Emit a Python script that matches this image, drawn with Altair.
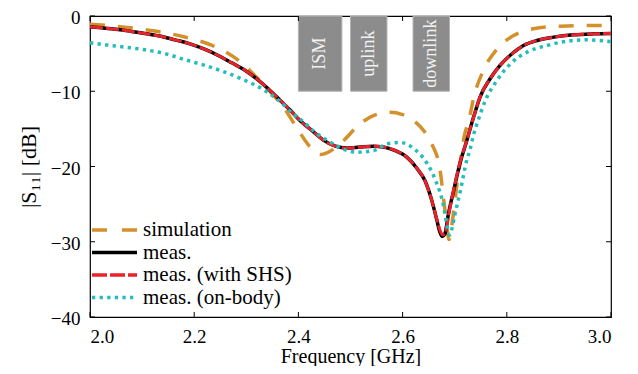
import altair as alt
import pandas as pd

# ---------------- data ----------------
sim_f = [2.000, 2.030, 2.067, 2.125, 2.182, 2.234, 2.285, 2.326, 2.349, 2.371, 2.400, 2.420,
         2.442, 2.460, 2.483, 2.519, 2.545, 2.575, 2.600, 2.621, 2.640, 2.656, 2.672, 2.679,
         2.684, 2.689, 2.697, 2.705, 2.712, 2.718, 2.727, 2.737, 2.755, 2.781, 2.813, 2.851,
         2.903, 2.954, 3.000]
sim_db = [-1.10, -1.25, -1.49, -2.00, -2.80, -3.90, -5.90, -8.60, -10.3, -12.1, -15.2, -17.2,
          -18.4, -18.0, -16.8, -14.3, -13.2, -12.8, -13.1, -13.9, -15.2, -17.0, -20.5, -24.5,
          -27.3, -29.7, -26.5, -22.0, -18.8, -16.1, -13.9, -10.7, -7.24, -4.40, -2.60, -1.70,
          -1.35, -1.26, -1.26]

meas_f = [2.000, 2.022, 2.054, 2.080, 2.109, 2.138, 2.163, 2.192, 2.221, 2.246, 2.272, 2.298,
          2.320, 2.342, 2.362, 2.384, 2.403, 2.429, 2.448, 2.471, 2.493, 2.519, 2.544, 2.563,
          2.586, 2.608, 2.627, 2.643, 2.656, 2.666, 2.671, 2.676, 2.681, 2.688, 2.698, 2.710,
          2.723, 2.736, 2.749, 2.768, 2.787, 2.810, 2.832, 2.858, 2.890, 2.928, 2.967, 3.000]
meas_db = [-1.45, -1.57, -1.79, -2.06, -2.37, -2.72, -3.17, -3.70, -4.45, -5.25, -6.22, -7.24,
           -8.35, -9.67, -11.0, -12.5, -13.9, -15.4, -16.5, -17.3, -17.55, -17.4, -17.3, -17.4,
           -17.9, -18.75, -20.2, -21.9, -24.5, -27.2, -28.6, -29.3, -29.0, -26.3, -23.2, -19.6,
           -16.6, -13.5, -10.7, -8.34, -6.57, -5.02, -3.92, -3.25, -2.81, -2.50, -2.37, -2.32]

shs_f = [2.000, 2.022, 2.054, 2.080, 2.109, 2.138, 2.163, 2.192, 2.221, 2.246, 2.272, 2.298,
         2.320, 2.342, 2.362, 2.384, 2.403, 2.429, 2.448, 2.471, 2.493, 2.519, 2.544, 2.563,
         2.586, 2.608, 2.627, 2.643, 2.656, 2.666, 2.672, 2.677, 2.682, 2.689, 2.698, 2.710,
         2.723, 2.736, 2.749, 2.768, 2.787, 2.810, 2.832, 2.858, 2.890, 2.928, 2.967, 3.000]
shs_db = [-1.45, -1.57, -1.79, -2.06, -2.37, -2.72, -3.17, -3.70, -4.45, -5.25, -6.22, -7.24,
          -8.35, -9.67, -11.0, -12.5, -13.9, -15.4, -16.5, -17.3, -17.55, -17.4, -17.3, -17.4,
          -17.9, -18.75, -20.2, -21.9, -24.5, -27.1, -28.5, -29.1, -28.8, -26.2, -23.1, -19.5,
          -16.6, -13.5, -10.7, -8.34, -6.57, -5.02, -3.92, -3.25, -2.81, -2.50, -2.37, -2.32]

body_f = [2.000, 2.029, 2.067, 2.106, 2.144, 2.182, 2.221, 2.259, 2.298, 2.330, 2.362, 2.387,
          2.410, 2.435, 2.467, 2.490, 2.512, 2.544, 2.570, 2.595, 2.621, 2.647, 2.663, 2.679,
          2.685, 2.690, 2.695, 2.700, 2.711, 2.723, 2.730, 2.736, 2.743, 2.759, 2.781, 2.807,
          2.839, 2.877, 2.916, 2.954, 2.992, 3.000]
body_db = [-3.56, -3.83, -4.14, -4.49, -5.00, -5.80, -6.57, -7.46, -8.57, -9.67, -11.2, -12.8,
           -14.1, -15.6, -17.0, -17.8, -18.1, -17.9, -17.0, -16.8, -17.6, -19.6, -21.8, -25.4,
           -27.8, -29.1, -28.2, -26.5, -23.2, -19.2, -17.6, -15.8, -14.3, -11.2, -8.57, -6.35,
           -4.80, -3.92, -3.35, -3.16, -3.35, -3.40]

band_names = ["ISM", "uplink", "downlink"]
band_start = [2.400, 2.500, 2.620]
band_end = [2.4835, 2.570, 2.690]
band_top = [0, 0, 0]
band_bottom = [-10, -10, -10]

x_ticks = [2.0, 2.2, 2.4, 2.6, 2.8, 3.0]
y_ticks = [0, -10, -20, -30, -40]

legend_labels = ["simulation", "meas.", "meas. (with SHS)", "meas. (on-body)"]

# ---------------- styling ----------------
FONT = "Liberation Serif"
FS = 21
W, H = 521, 301
C_SIM, C_MEAS, C_SHS, C_BODY = "#D4912B", "#000000", "#E8232B", "#22BDBD"

xs = alt.Scale(domain=[2.0, 3.0], nice=False, zero=False)
ys = alt.Scale(domain=[-40, 0], nice=False, zero=False)

X_AX = alt.Axis(values=x_ticks, format=".1f", ticks=False, domain=False, grid=False,
                labelFont=FONT, labelFontSize=19, labelColor="#000", labelPadding=10,
                title="Frequency [GHz]", titleFont=FONT, titleFontSize=20,
                titleFontWeight="normal", titleColor="#000", titlePadding=0)
Y_AX = alt.Axis(values=y_ticks, ticks=False, domain=False, grid=False,
                labelExpr="replace(format(datum.value, 'd'), '-', '\u2212')",
                labelFont=FONT, labelFontSize=19, labelColor="#000", labelPadding=10,
                labelOffset=1.5,
                title="|S\u2081\u2081| [dB]", titleFont=FONT, titleFontSize=22,
                titleFontWeight="normal", titleColor="#000", titlePadding=10)


def X(field):
    return alt.X(field, type="quantitative", scale=xs, axis=X_AX)


def Y(field):
    return alt.Y(field, type="quantitative", scale=ys, axis=Y_AX)


def line(fs, dbs, color, width, dash=None):
    df = pd.DataFrame({"f": fs, "db": dbs})
    kw = dict(color=color, strokeWidth=width, interpolate="monotone", strokeCap="butt")
    if dash:
        kw["strokeDash"] = dash
    return alt.Chart(df).mark_line(**kw).encode(x=X("f"), y=Y("db"))


bands_df = pd.DataFrame({"name": band_names, "f0": band_start, "f1": band_end,
                         "top": band_top, "bot": band_bottom})
bands_df["fc"] = (bands_df["f0"] + bands_df["f1"]) / 2
bands_df["yc"] = (bands_df["top"] + bands_df["bot"]) / 2

boxes = alt.Chart(bands_df).mark_rect(fill="#8C8C8C", stroke="#B4B4B4", strokeWidth=1).encode(
    x=X("f0"), x2="f1:Q", y=Y("top"), y2="bot:Q")
box_text = alt.Chart(bands_df).mark_text(font=FONT, fontSize=18, color="#F2F2F2", angle=270,
                                         align="center", baseline="middle").encode(
    x=X("fc"), y=Y("yc"), text="name:N")

# inward ticks on all four sides
xt = pd.DataFrame({"v": x_ticks})
yt = pd.DataFrame({"v": y_ticks})
TL = 5
tick_kw = dict(color="#000", strokeWidth=1)
ticks = [
    alt.Chart(xt).mark_rule(**tick_kw).encode(x=X("v"), y=alt.value(H), y2=alt.value(H - TL)),
    alt.Chart(xt).mark_rule(**tick_kw).encode(x=X("v"), y=alt.value(0), y2=alt.value(TL)),
    alt.Chart(yt).mark_rule(**tick_kw).encode(y=Y("v"), x=alt.value(0), x2=alt.value(TL)),
    alt.Chart(yt).mark_rule(**tick_kw).encode(y=Y("v"), x=alt.value(W), x2=alt.value(W - TL)),
]

# custom legend (bottom-left inside the plot)
leg_styles = [
    dict(color=C_SIM, strokeWidth=3.5, strokeDash=[15, 15]),
    dict(color=C_MEAS, strokeWidth=3.5),
    dict(color=C_SHS, strokeWidth=3.5, strokeDash=[15, 3]),
    dict(color=C_BODY, strokeWidth=3.5, strokeDash=[3.3, 4.3]),
]
LEG_TOP, LEG_GAP = 214, 22.5
legend_layers = []
for i, (lab, st) in enumerate(zip(legend_labels, leg_styles)):
    yy = LEG_TOP + i * LEG_GAP
    d = pd.DataFrame({"label": [lab]})
    legend_layers.append(alt.Chart(d).mark_rule(strokeCap="butt", **st).encode(
        x=alt.value(2), x2=alt.value(47), y=alt.value(yy)))
    legend_layers.append(alt.Chart(d).mark_text(font=FONT, fontSize=FS, color="#000",
                                                align="left", baseline="middle").encode(
        x=alt.value(53), y=alt.value(yy), text="label:N"))

chart = alt.layer(
    boxes, box_text,
    line(sim_f, sim_db, C_SIM, 3.5, [15, 13]),
    line(meas_f, meas_db, C_MEAS, 3.5),
    line(shs_f, shs_db, C_SHS, 3.0, [13, 3]),
    line(body_f, body_db, C_BODY, 3.5, [3.3, 4.3]),
    *ticks,
    *legend_layers,
).properties(
    width=W, height=H,
    autosize=alt.AutoSizeParams(type="none"),
    padding={"left": 82, "top": 8, "right": 19, "bottom": 49},
    background="white",
).configure_view(stroke="#000", strokeWidth=1.2)

chart.save("out.html", embed_options={"renderer": "svg", "actions": False})
